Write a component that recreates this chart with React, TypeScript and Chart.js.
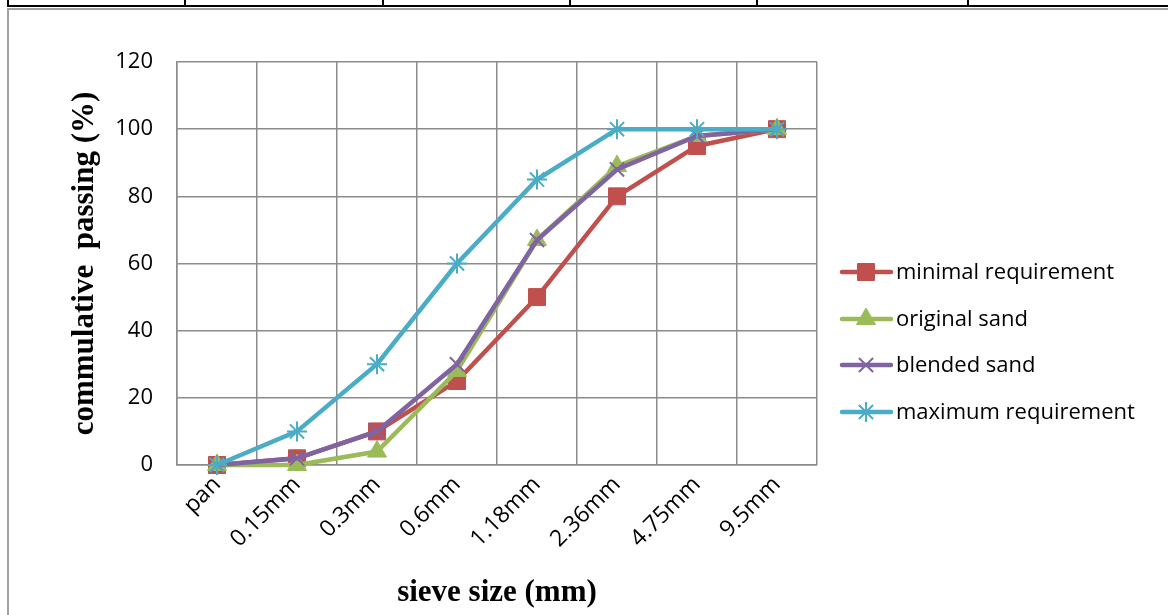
import React, { useEffect, useRef } from "react";
import { Chart, registerables } from "chart.js";
import { drawPoint } from "chart.js/helpers";

Chart.register(...registerables);

const categories = ["pan", "0.15mm", "0.3mm", "0.6mm", "1.18mm", "2.36mm", "4.75mm", "9.5mm"];
const minimalRequirement = [0, 2, 10, 25, 50, 80, 95, 100];
const originalSand = [0, 0, 4, 28, 67, 89, 98, 100];
const blendedSand = [0, 2, 10, 30, 67, 88, 98, 100];
const maximumRequirement = [0, 10, 30, 60, 85, 100, 100, 100];
const seriesNames = ["minimal requirement", "original sand", "blended sand", "maximum requirement"];
const yTitle = "commulative  passing (%)";
const xTitle = "sieve size (mm)";

const RED = "#C0504D";
const GREEN = "#9BBB59";
const PURPLE = "#8064A2";
const CYAN = "#4BACC6";
const GRID = "#8C8C8C";
const TICK_FONT = "'Open Sans', 'DejaVu Sans', sans-serif";
const TITLE_FONT = "'Liberation Serif', 'Times New Roman', serif";

const legendPlugin = {
  id: "sideLegend",
  afterDraw(chart: any) {
    const ctx = chart.ctx;
    const ys = [272, 319, 365, 412];
    chart.data.datasets.forEach((ds: any, i: number) => {
      const y = ys[i];
      ctx.save();
      ctx.strokeStyle = ds.borderColor;
      ctx.lineWidth = 4.5;
      ctx.lineCap = "round";
      ctx.beginPath();
      ctx.moveTo(842, y);
      ctx.lineTo(891, y);
      ctx.stroke();
      ctx.fillStyle = ds.pointBackgroundColor;
      ctx.strokeStyle = ds.pointBorderColor;
      ctx.lineWidth = ds.pointBorderWidth;
      ctx.lineCap = "butt";
      drawPoint(ctx, { pointStyle: ds.pointStyle, rotation: 0, radius: ds.pointRadius, borderWidth: ds.pointBorderWidth }, 866, y);
      ctx.fillStyle = "#000";
      ctx.font = `22px ${TICK_FONT}`;
      ctx.textBaseline = "middle";
      ctx.textAlign = "left";
      ctx.fillText(ds.label, 896, y + 1);
      ctx.restore();
    });
  },
};

function makeDataset(label: string, data: number[], color: string, style: string, radius: number, bw: number, order: number) {
  return {
    label,
    data,
    borderColor: color,
    backgroundColor: color,
    pointBackgroundColor: color,
    pointBorderColor: color,
    pointStyle: style,
    pointRadius: radius,
    pointBorderWidth: bw,
    borderWidth: 4.5,
    tension: 0,
    clip: false,
    order,
  };
}

export default function App() {
  const canvasRef = useRef<HTMLCanvasElement | null>(null);

  useEffect(() => {
    const canvas = canvasRef.current;
    if (!canvas) return;
    const chart = new Chart(canvas, {
      type: "line",
      data: {
        labels: categories,
        datasets: [
          makeDataset(seriesNames[0], minimalRequirement, RED, "rect", 12, 1, 3),
          makeDataset(seriesNames[1], originalSand, GREEN, "triangle", 11, 1, 2),
          makeDataset(seriesNames[2], blendedSand, PURPLE, "crossRot", 10, 2, 1),
          makeDataset(seriesNames[3], maximumRequirement, CYAN, "star", 10, 2, 0),
        ] as any,
      },
      options: {
        animation: false,
        responsive: false,
        maintainAspectRatio: false,
        layout: { padding: { left: 66, top: 62, right: 351, bottom: 0 } },
        plugins: { legend: { display: false }, tooltip: { enabled: false } },
        scales: {
          x: {
            type: "category",
            offset: true,
            grid: { offset: true, color: GRID, lineWidth: 1.5, drawTicks: false },
            border: { color: GRID, width: 1.5 },
            ticks: {
              autoSkip: false,
              minRotation: 45,
              maxRotation: 45,
              padding: 6,
              color: "#000",
              font: { family: TICK_FONT, size: 23 },
            },
            title: {
              display: true,
              text: xTitle,
              color: "#000",
              font: { family: TITLE_FONT, size: 31, weight: "bold" },
              padding: { top: 0, bottom: 3 },
            },
            afterFit(scale: any) {
              scale.height = 150;
            },
          },
          y: {
            min: 0,
            max: 120,
            ticks: {
              stepSize: 20,
              padding: 24,
              color: "#000",
              font: { family: TICK_FONT, size: 22 },
            },
            grid: { color: GRID, lineWidth: 1.5, drawTicks: false },
            border: { color: GRID, width: 1.5 },
            title: {
              display: true,
              text: yTitle,
              color: "#000",
              font: { family: TITLE_FONT, size: 31, weight: "bold" },
              padding: { top: 0, bottom: 0 },
            },
            afterFit(scale: any) {
              scale.width = 111;
            },
          },
        },
      } as any,
      plugins: [legendPlugin],
    });
    return () => chart.destroy();
  }, []);

  const vlines = [7, 184, 382, 569, 756, 967];

  return (
    <div style={{ position: "fixed", left: 0, top: 0, width: 1168, height: 615, background: "#fff", overflow: "hidden" }}>
      <div style={{ position: "absolute", left: 7, top: 5, width: 1161, height: 2, background: "#000" }} />
      {vlines.map((x) => (
        <div key={x} style={{ position: "absolute", left: x, top: 0, width: 2, height: 6, background: "#000" }} />
      ))}
      <div style={{ position: "absolute", left: 7, top: 8, width: 1161, height: 2, background: "#A0A0A0" }} />
      <div style={{ position: "absolute", left: 7, top: 8, width: 2, height: 607, background: "#A0A0A0" }} />
      <canvas ref={canvasRef} width={1168} height={615} style={{ position: "absolute", left: 0, top: 0, width: 1168, height: 615 }} />
    </div>
  );
}
